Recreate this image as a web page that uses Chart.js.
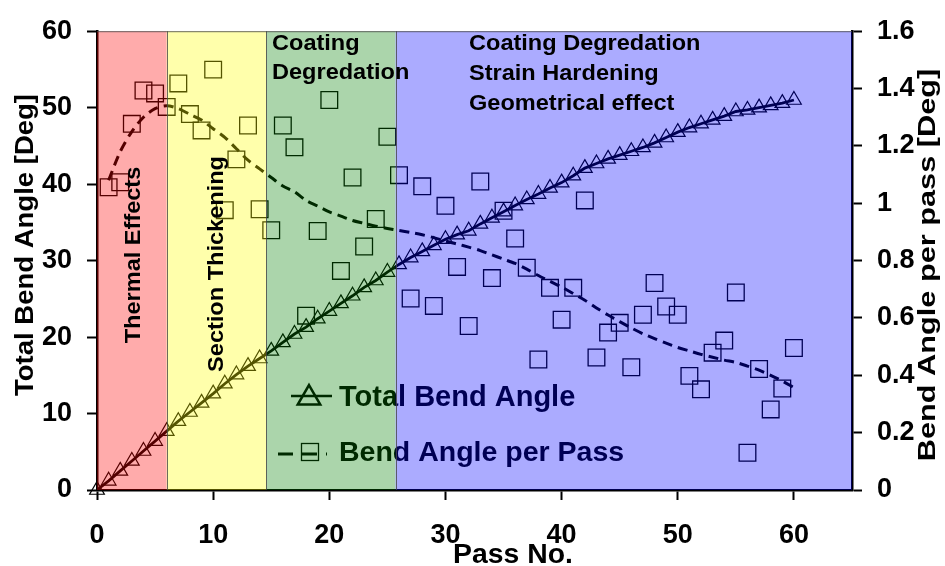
<!DOCTYPE html>
<html>
<head>
<meta charset="utf-8">
<script src="https://cdn.jsdelivr.net/npm/chart.js@4.4.0/dist/chart.umd.min.js"></script>
<style>
  html, body { margin: 0; padding: 0; background: #fff; }
</style>
</head>
<body>
<canvas id="grafico" width="945" height="566"></canvas>
<script>
// data
const passTotal = [0,1,2,3,4,5,6,7,8,9,10,11,12,13,14,15,16,17,18,19,20,21,22,23,24,25,26,27,28,29,30,
                   31,32,33,34,35,36,37,38,39,40,41,42,43,44,45,46,47,48,49,50,51,52,53,54,55,56,57,58,59,60];
const totalBend = [0,1.2,2.5,3.8,5.1,6.4,7.7,9.0,10.2,11.4,12.6,13.9,15.1,16.2,17.2,18.2,19.3,20.4,21.3,22.4,23.4,
                   24.4,25.4,26.5,27.4,28.5,29.5,30.4,31.2,32.0,32.8,33.4,33.9,34.8,35.6,36.4,37.2,38.0,38.7,39.5,40.2,
                   41.1,42.1,42.7,43.3,43.8,44.3,44.8,45.4,46.1,46.8,47.4,47.9,48.4,48.9,49.5,49.7,50.0,50.3,50.6,51.0];

const passPer = [1,2,3,4,5,6,7,8,9,10,11,12,13,14,15,16,17,18,19,20,21,22,23,24,25,26,27,28,29,30,
                 31,32,33,34,35,36,37,38,39,40,41,42,43,44,45,46,47,48,49,50,51,52,53,54,55,56,57,58,59,60];
const perPass = [1.056,1.073,1.277,1.393,1.383,1.336,1.418,1.311,1.254,1.466,0.976,1.153,1.271,0.979,0.906,
                 1.271,1.195,0.608,0.903,1.36,0.764,1.09,0.849,0.945,1.232,1.098,0.668,1.059,0.642,0.991,
                 0.778,0.572,1.076,0.739,0.974,0.877,0.775,0.455,0.705,0.594,0.705,1.01,0.462,0.549,0.583,
                 0.428,0.611,0.722,0.64,0.611,0.398,0.351,0.479,0.521,0.689,0.13,0.422,0.281,0.354,0.495];
const trendPer = [1.08,1.18,1.25,1.30,1.33,1.34,1.33,1.31,1.29,1.26,1.23,1.19,1.15,1.12,1.09,1.06,1.04,1.01,0.99,0.97,
                  0.955,0.94,0.93,0.92,0.912,0.905,0.898,0.89,0.88,0.868,0.858,0.847,0.835,0.82,0.805,0.79,0.77,0.748,0.728,0.708,
                  0.685,0.662,0.635,0.61,0.587,0.565,0.545,0.528,0.512,0.497,0.485,0.473,0.463,0.453,0.445,0.432,0.418,0.40,0.38,0.357];

// shaded regions (pass numbers)
const regionFrom = [0, 6, 14.55, 25.7];
const regionTo   = [6, 14.55, 25.7, 65];
const regionTint = ['rgba(255,0,0,0.33)', 'rgba(255,255,0,0.33)', 'rgba(0,128,0,0.33)', 'rgba(0,0,255,0.33)'];

const FONT = '"Liberation Sans", Arial, sans-serif';

// texto con escala horizontal (el original es algo más ancho que Arial)
function texto(ctx, s, x, y, size, sx, rotado, align) {
  ctx.save();
  ctx.translate(x, y);
  if (rotado) ctx.rotate(-Math.PI / 2);
  ctx.scale(sx, 1);
  ctx.font = 'bold ' + size + 'px ' + FONT;
  ctx.textAlign = align || 'left';
  ctx.textBaseline = 'alphabetic';
  ctx.fillStyle = '#000';
  ctx.fillText(s, 0, 0);
  ctx.restore();
}

const overlay = {
  id: 'overlay',
  afterDatasetsDraw(chart) {
    const ctx = chart.ctx;
    const a = chart.chartArea;
    const xs = chart.scales.x;

    // legend (sits under the tint, like the original)
    ctx.save();
    ctx.strokeStyle = '#000';
    ctx.lineWidth = 2.5;
    ctx.beginPath(); ctx.moveTo(291, 396); ctx.lineTo(332, 396); ctx.stroke();
    Chart.helpers.drawPoint(ctx, { pointStyle: 'triangle', radius: 13, borderWidth: 1.2 }, 309, 398);
    ctx.lineWidth = 3;
    ctx.setLineDash([15, 9]);
    ctx.beginPath(); ctx.moveTo(278, 454); ctx.lineTo(327, 454); ctx.stroke();
    ctx.setLineDash([]);
    ctx.lineWidth = 1.3;
    ctx.strokeRect(301.5, 443.5, 17, 17);
    ctx.restore();
    texto(ctx, 'Total Bend Angle', 339, 406, 29, 1, false);
    texto(ctx, 'Bend Angle per Pass', 339, 461, 28.5, 1, false);

    // bandas translúcidas
    ctx.save();
    for (let i = 0; i < regionFrom.length; i++) {
      const x0 = xs.getPixelForValue(regionFrom[i]);
      const x1 = xs.getPixelForValue(regionTo[i]);
      ctx.fillStyle = regionTint[i];
      ctx.fillRect(x0, a.top, x1 - x0, a.bottom - a.top);
    }
    ctx.strokeStyle = 'rgba(70,70,70,0.8)';
    ctx.lineWidth = 1;
    for (let i = 1; i < regionFrom.length; i++) {
      const xb = Math.round(xs.getPixelForValue(regionFrom[i])) + 0.5;
      ctx.beginPath(); ctx.moveTo(xb, a.top); ctx.lineTo(xb, a.bottom); ctx.stroke();
    }
    ctx.beginPath(); ctx.moveTo(a.left, a.top + 0.5); ctx.lineTo(a.right, a.top + 0.5); ctx.stroke();
    ctx.restore();

    // anotaciones
    texto(ctx, 'Thermal Effects', 140, 255, 22, 1.07, true, 'center');
    texto(ctx, 'Section Thickening', 223, 264, 22, 1.07, true, 'center');
    texto(ctx, 'Coating', 272, 50, 22, 1.07, false);
    texto(ctx, 'Degredation', 272, 79, 22, 1.07, false);
    texto(ctx, 'Coating Degredation', 469, 50, 22, 1.07, false);
    texto(ctx, 'Strain Hardening', 469, 80, 22, 1.07, false);
    texto(ctx, 'Geometrical effect', 469, 110, 22, 1.07, false);

    // títulos de ejes
    texto(ctx, 'Total Bend Angle [Deg]', 33, 245, 25, 1.1, true, 'center');
    texto(ctx, 'Bend Angle per pass [Deg]', 935, 265, 24, 1.28, true, 'center');
    texto(ctx, 'Pass No.', 513, 563, 27, 1.05, false, 'center');
  }
};

const ejeTicks = { color: '#000', font: { family: FONT, size: 27, weight: 'bold' } };
const rejilla = { drawOnChartArea: false, drawTicks: true, tickLength: 10, tickWidth: 2, tickColor: '#000' };

new Chart(document.getElementById('grafico').getContext('2d'), {
  type: 'line',
  data: {
    datasets: [
      {
        label: 'Total Bend Angle',
        data: passTotal.map((p, i) => ({ x: p, y: totalBend[i] })),
        yAxisID: 'y',
        borderColor: '#000',
        borderWidth: 2.8,
        tension: 0,
        pointStyle: 'triangle',
        pointRadius: 8.5,
        pointBorderWidth: 1.2,
        pointBorderColor: '#000',
        pointBackgroundColor: 'rgba(0,0,0,0)',
        clip: false
      },
      {
        label: 'Bend Angle per Pass',
        data: passPer.map((p, i) => ({ x: p, y: perPass[i] })),
        yAxisID: 'y1',
        showLine: false,
        pointStyle: 'rect',
        pointRadius: 11.8,
        pointBorderWidth: 1.3,
        pointBorderColor: '#000',
        pointBackgroundColor: 'rgba(0,0,0,0)'
      },
      {
        label: 'trend',
        data: passPer.map((p, i) => ({ x: p, y: trendPer[i] })),
        yAxisID: 'y1',
        borderColor: '#000',
        borderWidth: 3,
        borderDash: [10, 6],
        tension: 0.3,
        pointRadius: 0
      }
    ]
  },
  options: {
    responsive: false,
    animation: false,
    devicePixelRatio: 1,
    layout: { padding: { top: 19, left: 0, right: 0, bottom: 0 } },
    plugins: { legend: { display: false }, tooltip: { enabled: false } },
    scales: {
      x: {
        type: 'linear', min: 0, max: 65,
        ticks: { ...ejeTicks, stepSize: 10, includeBounds: false, padding: 19, maxRotation: 0 },
        grid: rejilla,
        border: { display: true, color: '#000', width: 2.5 },
        afterFit: s => { s.height = 76; }
      },
      y: {
        position: 'left', min: 0, max: 60,
        ticks: { ...ejeTicks, stepSize: 10, padding: 15 },
        grid: rejilla,
        border: { display: true, color: '#000', width: 2.5 },
        afterFit: s => { s.width = 97; }
      },
      y1: {
        position: 'right', min: 0, max: 1.6,
        ticks: { ...ejeTicks, stepSize: 0.2, padding: 15, callback: v => String(+v.toFixed(1)) },
        grid: rejilla,
        border: { display: true, color: '#000', width: 2.5 },
        afterFit: s => { s.width = 93; }
      }
    }
  },
  plugins: [overlay]
});
</script>
</body>
</html>
